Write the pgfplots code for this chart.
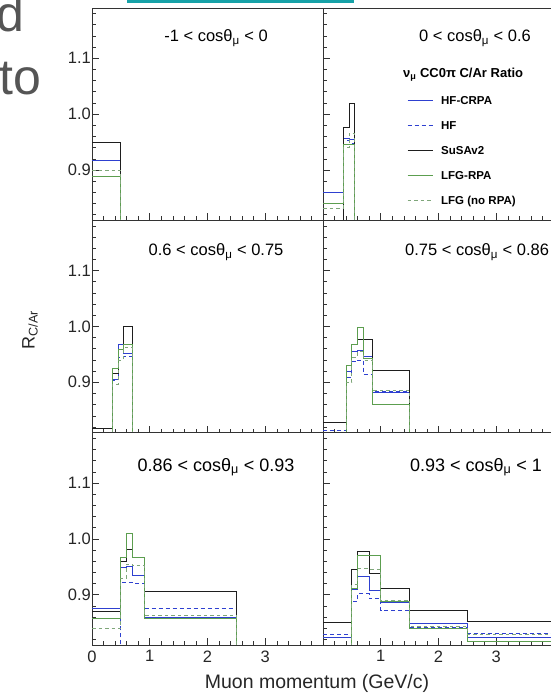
\documentclass[border=0pt]{standalone}
\usepackage{fontspec}
\setmainfont{Liberation Sans}
\usepackage{pgfplots}
\pgfplotsset{compat=1.18}

\definecolor{cblue}{HTML}{2E40D0}
\definecolor{cgreen}{HTML}{5C9E4F}
\definecolor{cgreenl}{HTML}{7FA67A}
\definecolor{cblack}{HTML}{1E1E1E}
\definecolor{cframe}{HTML}{333333}
\definecolor{cteal}{HTML}{17A2A8}
\definecolor{cslide}{HTML}{555555}

\tikzset{ptitle/.style={font=\fontsize{16.5}{16.5}\selectfont, text=black},
         ptitleb/.style={font=\fontsize{18}{18}\selectfont, text=black}}

\pgfplotsset{
  panel/.style={
    scale only axis, width=231pt, height=212.3pt,
    xmin=0, xmax=4, ymin=0.81, ymax=1.19,
    xtick={0,1,2,3}, minor xtick={0.2,0.4,0.6,0.8,1.2,1.4,1.6,1.8,2.2,2.4,2.6,2.8,3.2,3.4,3.6,3.8},
    ytick={0.9,1.0,1.1}, minor ytick={0.82,0.84,0.86,0.88,0.92,0.94,0.96,0.98,1.02,1.04,1.06,1.08,1.12,1.14,1.16,1.18},
    tick align=inside, xtick pos=left, ytick pos=left,
    major tick length=7pt, minor tick length=4pt,
    axis line style={cframe, line width=0.8pt},
    every tick/.style={cframe, line width=0.6pt},
    xticklabels={}, yticklabels={},
    tick label style={font=\fontsize{16.5}{16.5}\selectfont, text=black!85},
    yticklabel style={inner xsep=1pt},
    xticklabel style={yshift=-2pt},
    /pgf/number format/assume math mode=true,
    every axis plot/.append style={line width=0.9pt, no markers, const plot mark left},
  },
  hfcrpa/.style={cblue, solid},
  hf/.style={cblue, dash pattern=on 4pt off 3pt},
  susa/.style={cblack, solid},
  lfgrpa/.style={cgreen, solid},
  lfgno/.style={cgreenl, dash pattern=on 3.5pt off 3pt},
}

\begin{document}
\begin{tikzpicture}
\path[use as bounding box] (0,0) rectangle (551pt,699pt);

% slide remnants
\fill[cteal] (127pt,696pt) rectangle (354pt,699pt);
\node[anchor=base east, inner sep=0pt, text=cslide, font=\fontsize{50}{50}\selectfont] at (25pt,667pt) {d};
\node[anchor=base east, inner sep=0pt, text=cslide, font=\fontsize{50}{50}\selectfont] at (41pt,604pt) {to};

% ---------- panel 1 : -1 < cos < 0
\begin{axis}[panel, at={(92pt,478.7pt)}, anchor=south west, yticklabels={0.9,1.0,1.1}]
\addplot[hfcrpa] coordinates {(0,0.918) (0.5,0.918) (0.5,0.5)};
\addplot[hf] coordinates {(0,0.917) (0.5,0.917) (0.5,0.5)};
\addplot[susa] coordinates {(0,0.950) (0.5,0.950) (0.5,0.5)};
\addplot[lfgrpa] coordinates {(0,0.888) (0.5,0.888) (0.5,0.5)};
\addplot[lfgno] coordinates {(0,0.900) (0.5,0.900) (0.5,0.5)};
\node[ptitle] at (rel axis cs:0.537,0.859) {-1 < cosθ\textsubscript{μ} < 0};
\end{axis}

% ---------- panel 2 : 0 < cos < 0.6
\begin{axis}[panel, at={(323pt,478.7pt)}, anchor=south west,
  legend style={draw=none, fill=none, at={(rel axis cs:0.364,0.590)}, anchor=north west,
    inner sep=0pt, row sep=15pt, column sep=7pt,
    font=\bfseries\fontsize{11.5}{11.5}\selectfont,
    nodes={inner sep=1pt, text height=8pt, text depth=0pt}},
  legend cell align=left,
  legend image code/.code={\draw[#1] (0pt,0pt) -- (25pt,0pt);}]
\addplot[hfcrpa] coordinates {(0,0.860) (0.35,0.957) (0.45,0.955) (0.55,0.955) (0.55,0.5)};
\addplot[hf] coordinates {(0,0.859) (0.35,0.953) (0.45,0.948) (0.55,0.948) (0.55,0.5)};
\addplot[susa] coordinates {(0,0.800) (0.35,0.977) (0.45,1.020) (0.55,1.020) (0.55,0.5)};
\addplot[lfgrpa] coordinates {(0,0.840) (0.35,0.945) (0.45,0.946) (0.55,0.946) (0.55,0.5)};
\addplot[lfgno] coordinates {(0,0.832) (0.35,0.940) (0.45,0.965) (0.55,0.965) (0.55,0.5)};
\legend{HF-CRPA, HF, SuSAv2, LFG-RPA, LFG (no RPA)}
\node[ptitle] at (rel axis cs:0.658,0.859) {0 < cosθ\textsubscript{μ} < 0.6};
\node[anchor=west, inner sep=0pt, font=\bfseries\fontsize{13}{13}\selectfont] at (rel axis cs:0.346,0.684) {ν\textsubscript{μ} CC0π C/Ar Ratio};
\end{axis}

% ---------- panel 3 : 0.6 < cos < 0.75
\begin{axis}[panel, at={(92pt,266.4pt)}, anchor=south west, yticklabels={0.9,1.0,1.1}]
\addplot[hfcrpa] coordinates {(0,0.800) (0.35,0.906) (0.45,0.968) (0.55,0.952) (0.70,0.952) (0.70,0.5)};
\addplot[hf] coordinates {(0,0.800) (0.35,0.903) (0.45,0.945) (0.55,0.946) (0.70,0.946) (0.70,0.5)};
\addplot[susa] coordinates {(0,0.817) (0.35,0.916) (0.45,0.959) (0.55,1.000) (0.70,1.000) (0.70,0.5)};
\addplot[lfgrpa] coordinates {(0,0.800) (0.35,0.924) (0.45,0.958) (0.55,0.968) (0.70,0.968) (0.70,0.5)};
\addplot[lfgno] coordinates {(0,0.800) (0.35,0.896) (0.45,0.940) (0.55,0.962) (0.70,0.962) (0.70,0.5)};
\node[ptitle] at (rel axis cs:0.537,0.851) {0.6 < cosθ\textsubscript{μ} < 0.75};
\end{axis}

% ---------- panel 4 : 0.75 < cos < 0.86
\begin{axis}[panel, at={(323pt,266.4pt)}, anchor=south west]
\addplot[hfcrpa] coordinates {(0,0.800) (0.4,0.920) (0.5,0.956) (0.6,0.957) (0.7,0.947) (0.85,0.882) (1.5,0.882) (1.5,0.5)};
\addplot[hf] coordinates {(0,0.813) (0.4,0.908) (0.5,0.937) (0.6,0.940) (0.7,0.914) (0.85,0.884) (1.5,0.884) (1.5,0.5)};
\addplot[susa] coordinates {(0,0.828) (0.4,0.930) (0.5,0.967) (0.6,0.976) (0.7,0.976) (0.85,0.922) (1.5,0.922) (1.5,0.5)};
\addplot[lfgrpa] coordinates {(0,0.800) (0.4,0.930) (0.5,0.968) (0.6,0.998) (0.7,0.942) (0.85,0.861) (1.5,0.861) (1.5,0.5)};
\addplot[lfgno] coordinates {(0,0.800) (0.4,0.900) (0.5,0.945) (0.6,0.955) (0.7,0.940) (0.85,0.886) (1.5,0.886) (1.5,0.5)};
\node[ptitle] at (rel axis cs:0.667,0.851) {0.75 < cosθ\textsubscript{μ} < 0.86};
\end{axis}

% ---------- panel 5 : 0.86 < cos < 0.93
\begin{axis}[panel, at={(92pt,54pt)}, anchor=south west, yticklabels={0.9,1.0,1.1}, xticklabels={0,1,2,3}]
\addplot[hfcrpa] coordinates {(0,0.875) (0.5,0.948) (0.6,0.950) (0.7,0.934) (0.9,0.860) (2.5,0.860) (2.5,0.5)};
\addplot[hf] coordinates {(0,0.800) (0.5,0.922) (0.6,0.922) (0.7,0.921) (0.9,0.875) (2.5,0.875) (2.5,0.5)};
\addplot[susa] coordinates {(0,0.870) (0.5,0.959) (0.6,0.981) (0.7,0.967) (0.9,0.905) (2.5,0.905) (2.5,0.5)};
\addplot[lfgrpa] coordinates {(0,0.857) (0.5,0.966) (0.6,1.009) (0.7,0.967) (0.9,0.857) (2.5,0.857) (2.5,0.5)};
\addplot[lfgno] coordinates {(0,0.840) (0.5,0.930) (0.6,0.955) (0.7,0.952) (0.9,0.863) (2.5,0.863) (2.5,0.5)};
\node[ptitleb] at (rel axis cs:0.537,0.838) {0.86 < cosθ\textsubscript{μ} < 0.93};
\end{axis}

% ---------- panel 6 : 0.93 < cos < 1
\begin{axis}[panel, at={(323pt,54pt)}, anchor=south west, xticklabels={,1,2,3}]
\addplot[hfcrpa] coordinates {(0,0.824) (0.5,0.910) (0.6,0.933) (0.8,0.908) (1.0,0.886) (1.5,0.849) (2.5,0.824) (5,0.824) (5,0.5)};
\addplot[hf] coordinates {(0,0.829) (0.5,0.888) (0.6,0.902) (0.8,0.893) (1.0,0.871) (1.5,0.842) (2.5,0.831) (5,0.831) (5,0.5)};
\addplot[susa] coordinates {(0,0.851) (0.5,0.945) (0.6,0.977) (0.8,0.938) (1.0,0.912) (1.5,0.871) (2.5,0.853) (5,0.853) (5,0.5)};
\addplot[lfgrpa] coordinates {(0,0.800) (0.5,0.911) (0.6,0.970) (0.8,0.970) (1.0,0.888) (1.5,0.840) (2.5,0.817) (5,0.817) (5,0.5)};
\addplot[lfgno] coordinates {(0,0.800) (0.5,0.918) (0.6,0.947) (0.8,0.946) (1.0,0.890) (1.5,0.844) (2.5,0.828) (5,0.828) (5,0.5)};
\node[ptitleb] at (rel axis cs:0.662,0.838) {0.93 < cosθ\textsubscript{μ} < 1};
\end{axis}

% axis titles
\node[rotate=90, font=\fontsize{18}{18}\selectfont, text=black!85] at (30pt,369pt) {R\textsubscript{C/Ar}};
\node[font=\fontsize{19.5}{19.5}\selectfont, text=black!85] at (317pt,16pt) {Muon momentum (GeV/c)};
\end{tikzpicture}
\end{document}
